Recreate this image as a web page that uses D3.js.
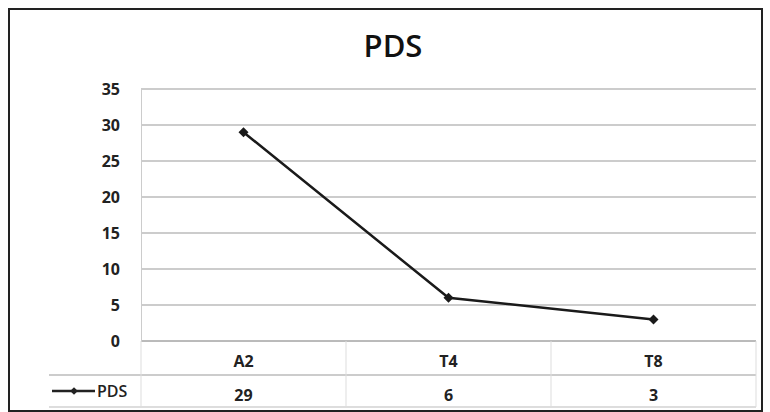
<!DOCTYPE html>
<html>
<head>
<meta charset="utf-8">
<script src="https://cdn.jsdelivr.net/npm/d3@7"></script>
<style>
  body { margin: 0; background: #fff; }
  svg { display: block; font-family: "Open Sans", "DejaVu Sans", sans-serif; }
</style>
</head>
<body>
<svg id="drawing_region"></svg>
<script>
const categories = ["A2", "T4", "T8"];
const pdsValues = [29, 6, 3];
const yTicks = [0, 5, 10, 15, 20, 25, 30, 35];
const seriesName = "PDS";

const config = {
    width: 770,
    height: 412,
    margin: {top: 89, right: 14, bottom: 71, left: 141}
};

const svg = d3.select('#drawing_region')
    .attr('width', config.width)
    .attr('height', config.height);

// outer frame
svg.append('rect')
    .attr('x', 9).attr('y', 9)
    .attr('width', 753).attr('height', 402)
    .attr('fill', '#fff')
    .attr('stroke', '#222')
    .attr('stroke-width', 2);

svg.append('text')
    .attr('x', 393).attr('y', 57)
    .attr('text-anchor', 'middle')
    .attr('font-size', '31px')
    .attr('font-weight', 600)
    .attr('fill', '#111')
    .text(seriesName);

const inner_width = 615;
const plotH = 341 - config.margin.top;

const chart = svg.append('g')
    .attr('transform', `translate(${config.margin.left}, ${config.margin.top})`);

const xscale = d3.scaleBand()
    .domain(categories)
    .range([0, inner_width]);

const yscale = d3.scaleLinear()
    .domain([0, 35])
    .range([plotH, 0]);

// gridlines
chart.append('g')
    .selectAll('line')
    .data(yTicks)
    .join('line')
    .attr('x1', 0).attr('x2', inner_width)
    .attr('y1', d => yscale(d)).attr('y2', d => yscale(d))
    .attr('stroke', d => d === 0 ? '#777' : '#999')
    .attr('stroke-width', 1);

// y axis
const yaxis = d3.axisLeft(yscale).tickValues(yTicks).tickSize(0).tickPadding(21);
const yaxis_group = chart.append('g').call(yaxis);
yaxis_group.select('.domain').attr('stroke', '#ccc');
yaxis_group.selectAll('text')
    .attr('font-size', '16px')
    .attr('font-weight', 700)
    .attr('fill', '#222')
    .attr('font-family', '"Open Sans", sans-serif');

// data table
const table = chart.append('g').attr('transform', `translate(0, ${plotH})`);
const rowH = 34;
table.append('line')
    .attr('x1', -92).attr('x2', inner_width)
    .attr('y1', rowH).attr('y2', rowH)
    .attr('stroke', '#999');
table.append('line')
    .attr('x1', -92).attr('x2', inner_width)
    .attr('y1', 66).attr('y2', 66)
    .attr('stroke', '#bbb');
[0, 1, 2, 3].forEach(i => {
    const x = i < 3 ? xscale(categories[i]) : xscale.range()[1];
    table.append('line')
        .attr('x1', x).attr('x2', x)
        .attr('y1', 0).attr('y2', 66)
        .attr('stroke', '#ddd');
});
table.selectAll('text.cat')
    .data(categories)
    .join('text')
    .attr('class', 'cat')
    .attr('x', d => xscale(d) + xscale.bandwidth() / 2)
    .attr('y', 26)
    .attr('text-anchor', 'middle')
    .attr('font-size', '16px')
    .attr('font-weight', 700)
    .attr('fill', '#222')
    .text(d => d);
table.selectAll('text.val')
    .data(pdsValues)
    .join('text')
    .attr('class', 'val')
    .attr('x', (d, i) => xscale(categories[i]) + xscale.bandwidth() / 2)
    .attr('y', 60)
    .attr('text-anchor', 'middle')
    .attr('font-size', '16px')
    .attr('font-weight', 700)
    .attr('fill', '#222')
    .text(d => d);

// legend key in table
const key = table.append('g').attr('transform', `translate(-89, 50)`);
key.append('line').attr('x1', 0).attr('x2', 43).attr('y1', 0).attr('y2', 0)
    .attr('stroke', '#222').attr('stroke-width', 2.5);
key.append('path').attr('d', d3.symbol(d3.symbolSquare, 30)())
    .attr('transform', 'translate(22,0) rotate(45)').attr('fill', '#222');
key.append('text').attr('x', 45).attr('y', 6)
    .attr('font-size', '16px').attr('font-weight', 600).attr('fill', '#222')
    .text(seriesName);

// series line
const line = d3.line()
    .x((d, i) => xscale(categories[i]) + xscale.bandwidth() / 2)
    .y(d => yscale(d));

chart.append('path')
    .datum(pdsValues)
    .attr('d', line)
    .attr('fill', 'none')
    .attr('stroke', '#1a1a1a')
    .attr('stroke-width', 2.5);

chart.selectAll('path.marker')
    .data(pdsValues)
    .join('path')
    .attr('class', 'marker')
    .attr('d', d3.symbol(d3.symbolSquare, 50)())
    .attr('transform', (d, i) => `translate(${xscale(categories[i]) + xscale.bandwidth() / 2}, ${yscale(d)}) rotate(45)`)
    .attr('fill', '#1a1a1a');
</script>
</body>
</html>
